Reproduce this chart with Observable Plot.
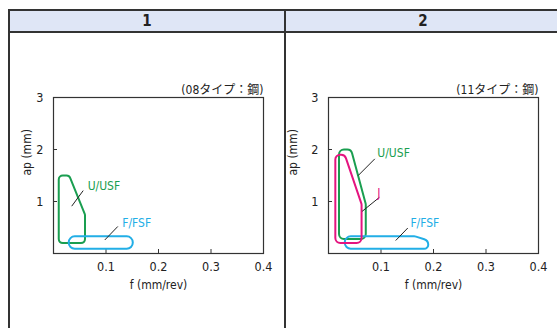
<!DOCTYPE html>
<html>
<head>
<meta charset="utf-8">
<script src="https://cdn.jsdelivr.net/npm/d3@7"></script>
<script src="https://cdn.jsdelivr.net/npm/@observablehq/plot@0.6"></script>
<style>
  html, body { margin: 0; padding: 0; background: #fff; }
  body { width: 557px; height: 328px; position: relative; overflow: hidden;
         font-family: "Liberation Sans Narrow", "DejaVu Sans Condensed", "Noto Sans CJK JP", sans-serif; }
  .abs { position: absolute; }
  .hdr { background: #dfe6f6; }
  .line { background: #333; }
  .htext { font-weight: bold; font-size: 15px; color: #222; text-align: center; line-height: 22px; }
</style>
</head>
<body>
<div class="abs hdr" style="left:9px;top:10px;width:560px;height:22px"></div>
<div class="abs line" style="left:8px;top:9px;width:560px;height:2px"></div>
<div class="abs line" style="left:8px;top:31px;width:560px;height:2px"></div>
<div class="abs line" style="left:8px;top:9px;width:2px;height:330px"></div>
<div class="abs line" style="left:284px;top:9px;width:2px;height:330px"></div>
<div id="h1" class="abs htext" style="left:10px;top:10px;width:274px"></div>
<div id="h2" class="abs htext" style="left:286px;top:10px;width:274px"></div>
<div id="p1" class="abs" style="left:10px;top:33px"></div>
<div id="p2" class="abs" style="left:286px;top:33px"></div>
<script>
// ---- data ----
const panelTitles = ["1", "2"];
const notes = ["(08タイプ：鋼)", "(11タイプ：鋼)"];
const xTicks = [0.1, 0.2, 0.3, 0.4];
const yTicks = [1, 2, 3];
const xLabel = "f (mm/rev)";
const yLabel = "ap (mm)";

// region outlines: [f, ap] vertices
const uusf1 = [[0.010, 0.20], [0.010, 1.50], [0.030, 1.50], [0.060, 0.75], [0.060, 0.20]];
const ffsf1 = [[0.029, 0.09], [0.029, 0.33], [0.151, 0.33], [0.151, 0.09]];
const uusf2 = [[0.020, 0.28], [0.020, 2.00], [0.043, 2.00], [0.071, 0.95], [0.071, 0.28]];
const j2    = [[0.013, 0.20], [0.013, 1.90], [0.031, 1.90], [0.063, 0.95], [0.063, 0.20]];
const ffsf2 = [[0.031, 0.09], [0.031, 0.33], [0.165, 0.33], [0.190, 0.25], [0.190, 0.09]];

// leader lines: [f1, ap1, f2, ap2]
const leaders1 = [[0.0347, 0.91, 0.0566, 1.21], [0.0977, 0.26, 0.1225, 0.52]];
const leaders2 = [[0.0566, 1.50, 0.0882, 1.82], [0.064, 0.81, 0.097, 1.08], [0.128, 0.25, 0.151, 0.49]];

// labels: [text, f, ap]
const labels1 = [["U/USF", 0.065, 1.30], ["F/FSF", 0.131, 0.58]];
const labels2 = [["U/USF", 0.093, 1.93], ["J", 0.093, 1.17], ["F/FSF", 0.156, 0.59]];

const colors = { "U/USF": "#1a9e50", "F/FSF": "#22aee6", "J": "#e4147f" };

// ---- rounded closed curve (pixel radius) ----
function roundedClosed(r) {
  return function (context) {
    let pts;
    return {
      areaStart() {}, areaEnd() {},
      lineStart() { pts = []; },
      point(x, y) { pts.push([+x, +y]); },
      lineEnd() {
        const n = pts.length;
        if (n < 3) return;
        const mid = (a, b) => [(a[0] + b[0]) / 2, (a[1] + b[1]) / 2];
        const m0 = mid(pts[n - 1], pts[0]);
        context.moveTo(m0[0], m0[1]);
        for (let i = 0; i < n; i++) {
          const p = pts[i], prev = pts[(i - 1 + n) % n], next = pts[(i + 1) % n];
          const ax = prev[0] - p[0], ay = prev[1] - p[1], bx = next[0] - p[0], by = next[1] - p[1];
          const la = Math.hypot(ax, ay), lb = Math.hypot(bx, by);
          const c = Math.max(-0.9999, Math.min(0.9999, (ax * bx + ay * by) / (la * lb)));
          const t = Math.sqrt((1 - c) / (1 + c));
          const re = Math.min(r, Math.min(la, lb) / 2 * t);
          const m = mid(p, next);
          context.arcTo(p[0], p[1], m[0], m[1], re);
        }
        context.closePath();
      }
    };
  };
}

function panel({ shapes, leaders, labels, note, marginLeft, marginRight, width, yLabelDx }) {
  const marks = [
    Plot.frame({ stroke: "#333", strokeWidth: 1.2 }),
    Plot.tickX(xTicks, { x: d => d, stroke: "#333", insetTop: 152 }),
    Plot.tickY(yTicks, { y: d => d, stroke: "#333", insetRight: 206 }),
  ];
  for (const [name, pts, r] of shapes) {
    marks.push(Plot.line(pts, { x: d => d[0], y: d => d[1], stroke: colors[name], strokeWidth: 2, curve: roundedClosed(r) }));
  }
  marks.push(Plot.link(leaders, { x1: d => d[0], y1: d => d[1], x2: d => d[2], y2: d => d[3], stroke: "#222", strokeWidth: 1 }));
  marks.push(Plot.text(labels, { x: d => d[1], y: d => d[2], text: d => d[0], fill: d => colors[d[0]], textAnchor: "start", fontSize: 12 }));
  marks.push(Plot.text([note], { text: d => d, frameAnchor: "top-right", dy: -12, textAnchor: "end", fill: "#222", fontSize: 12 }));
  marks.push(Plot.text([yLabel], { text: d => d, frameAnchor: "left", dx: yLabelDx, rotate: -90, fill: "#222", fontSize: 12 }));
  marks.push(Plot.text([xLabel], { text: d => d, frameAnchor: "bottom", dy: 35, fill: "#222", fontSize: 12 }));
  return Plot.plot({
    width, height: 295,
    marginLeft, marginRight, marginTop: 64, marginBottom: 75,
    style: { fontSize: "12.5px", fontFamily: "'Liberation Sans Narrow', 'DejaVu Sans Condensed', 'Noto Sans CJK JP', sans-serif", background: "transparent", color: "#222", overflow: "visible" },
    x: { domain: [0, 0.4], ticks: xTicks, tickSize: 0, tickPadding: 9, tickFormat: d => String(d), label: null },
    y: { domain: [0, 3], ticks: yTicks, tickSize: 0, tickPadding: 10, tickFormat: d => String(d), label: null },
    marks
  });
}

document.getElementById("h1").textContent = panelTitles[0];
document.getElementById("h2").textContent = panelTitles[1];

document.getElementById("p1").appendChild(panel({
  shapes: [["U/USF", uusf1, 4], ["F/FSF", ffsf1, 6]],
  leaders: leaders1, labels: labels1, note: notes[0],
  width: 274, marginLeft: 43, marginRight: 21, yLabelDx: -26
}));
document.getElementById("p2").appendChild(panel({
  shapes: [["U/USF", uusf2, 5], ["F/FSF", ffsf2, 6], ["J", j2, 5]],
  leaders: leaders2, labels: labels2, note: notes[1],
  width: 271, marginLeft: 42, marginRight: 19, yLabelDx: -35
}));
</script>
</body>
</html>
